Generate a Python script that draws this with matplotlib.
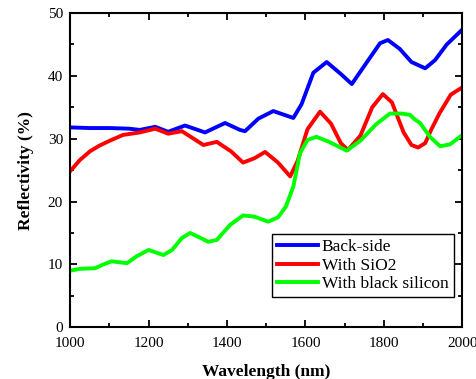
import matplotlib
matplotlib.use("Agg")
import matplotlib.pyplot as plt
from matplotlib.ticker import MultipleLocator

plt.rcParams["font.family"] = ["Liberation Serif", "DejaVu Serif"]

# reflectivity spectra
back_x = [1000, 1050, 1100, 1150, 1178, 1217, 1250, 1293, 1344, 1395, 1433, 1446,
          1480, 1518, 1569, 1590, 1620, 1654, 1690, 1718, 1760, 1790, 1810, 1840,
          1870, 1905, 1930, 1960, 2000]
back_y = [31.8, 31.7, 31.7, 31.6, 31.4, 31.9, 31.1, 32.1, 31.0, 32.5, 31.4, 31.2,
          33.2, 34.4, 33.3, 35.5, 40.5, 42.2, 40.3, 38.7, 42.5, 45.2, 45.7, 44.3,
          42.2, 41.2, 42.5, 45.0, 47.4]

sio2_x = [1000, 1025, 1051, 1075, 1102, 1135, 1178, 1217, 1250, 1285, 1310, 1340,
          1374, 1410, 1441, 1470, 1497, 1530, 1561, 1580, 1605, 1637, 1665, 1690,
          1708, 1740, 1770, 1797, 1820, 1850, 1870, 1887, 1905, 1920, 1941, 1970, 2000]
sio2_y = [24.8, 26.6, 28.0, 28.9, 29.7, 30.6, 31.0, 31.6, 30.8, 31.2, 30.2, 29.0,
          29.5, 28.0, 26.2, 26.9, 27.9, 26.2, 24.0, 26.5, 31.5, 34.3, 32.4, 29.3,
          28.2, 30.5, 35.0, 37.1, 35.8, 31.0, 29.0, 28.6, 29.3, 31.4, 34.0, 37.0, 38.2]

black_x = [1000, 1025, 1064, 1085, 1106, 1145, 1170, 1200, 1238, 1260, 1285, 1306,
           1330, 1352, 1374, 1408, 1441, 1470, 1505, 1530, 1550, 1569, 1586, 1605,
           1628, 1660, 1705, 1740, 1780, 1815, 1845, 1866, 1880, 1892, 1917, 1943,
           1968, 2000]
black_y = [9.0, 9.3, 9.4, 10.0, 10.5, 10.2, 11.3, 12.3, 11.5, 12.3, 14.2, 15.0,
           14.3, 13.6, 13.9, 16.3, 17.8, 17.6, 16.8, 17.5, 19.2, 22.4, 27.7, 29.8,
           30.3, 29.5, 28.1, 29.7, 32.3, 34.0, 34.0, 33.8, 33.0, 32.5, 30.3, 28.8,
           29.1, 30.6]

fig = plt.figure(figsize=(4.77, 3.79), dpi=100)
ax = fig.add_axes([70 / 477, 1 - 327.3 / 379, 392.5 / 477, 314.3 / 379])

ax.plot(back_x, back_y, color="#0000ff", lw=2.8, label="Back-side", solid_joinstyle="round")
ax.plot(sio2_x, sio2_y, color="#ff0000", lw=2.8, label="With SiO2", solid_joinstyle="round")
ax.plot(black_x, black_y, color="#00ff00", lw=2.8, label="With black silicon", solid_joinstyle="round")

ax.set_xlim(1000, 2000)
ax.set_ylim(0, 50)
ax.xaxis.set_major_locator(MultipleLocator(200))
ax.xaxis.set_minor_locator(MultipleLocator(100))
ax.yaxis.set_major_locator(MultipleLocator(10))
ax.yaxis.set_minor_locator(MultipleLocator(5))
ax.tick_params(which="both", direction="in", top=True, right=True, labelsize=11, width=1.3)
ax.tick_params(which="major", length=5)
ax.tick_params(which="minor", length=3)
ax.tick_params(axis="x", pad=7)
ax.tick_params(axis="y", pad=5)
for s in ax.spines.values():
    s.set_linewidth(1.5)

ax.set_xlabel("Wavelength (nm)", fontsize=12.5, fontweight="bold", labelpad=10)
ax.set_ylabel("Reflectivity (%)", fontsize=12.5, fontweight="bold", labelpad=10)

leg = ax.legend(loc="lower right", bbox_to_anchor=(0.978, 0.096), borderaxespad=0,
                fontsize=12.5, fancybox=False, edgecolor="black", framealpha=1,
                handlelength=2.4, handletextpad=0.2, labelspacing=0.12,
                borderpad=0.3)
leg.get_frame().set_linewidth(1.0)

fig.savefig("out.png", dpi=100)
